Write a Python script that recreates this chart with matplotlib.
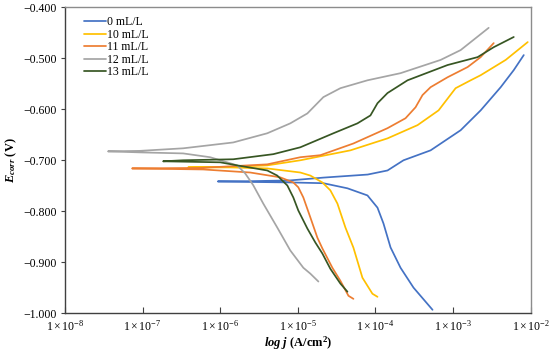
import numpy as np
import matplotlib
matplotlib.use("Agg")
import matplotlib.pyplot as plt
from matplotlib.ticker import FuncFormatter, FixedLocator, NullLocator

plt.rcParams['font.family'] = ['Liberation Serif', 'DejaVu Serif']
plt.rcParams['mathtext.fontset'] = 'custom'
plt.rcParams['mathtext.rm'] = 'Liberation Serif'
plt.rcParams['mathtext.it'] = 'Liberation Serif:italic'
plt.rcParams['mathtext.bf'] = 'Liberation Serif:bold'
plt.rcParams['mathtext.bfit'] = 'Liberation Serif:italic:bold'

# ---- data: log10 of current density (A/cm2) and potential (V) ----
labels = ["0 mL/L", "10 mL/L", "11 mL/L", "12 mL/L", "13 mL/L"]
colors = ["#4472C4", "#FFC000", "#ED7D31", "#A5A5A5", "#375623"]

logj_0 = [-3.265, -3.510, -3.677, -3.806, -3.897, -3.974, -4.103, -4.361, -4.671, -5.097, -5.613, -6.03,
          -5.61, -5.10, -4.67, -4.10, -3.845, -3.639, -3.290, -2.903, -2.645, -2.387, -2.219, -2.090]
E_0 = [-0.9935, -0.950, -0.911, -0.871, -0.824, -0.793, -0.769, -0.755, -0.745, -0.7435, -0.7425, -0.7415,
       -0.741, -0.7395, -0.734, -0.728, -0.720, -0.700, -0.6805, -0.641, -0.602, -0.5565, -0.523, -0.4935]

logj_10 = [-3.974, -4.039, -4.168, -4.284, -4.387, -4.490, -4.581, -4.684, -4.839, -4.968, -5.394, -5.871, -6.413,
           -5.871, -5.394, -4.968, -4.323, -3.845, -3.458, -3.187, -2.968, -2.774, -2.645, -2.323, -2.039]
E_10 = [-0.968, -0.962, -0.9305, -0.8715, -0.832, -0.785, -0.759, -0.7435, -0.730, -0.724, -0.716, -0.714, -0.714,
        -0.713, -0.710, -0.700, -0.6805, -0.657, -0.631, -0.602, -0.5585, -0.543, -0.533, -0.503, -0.468]

logj_11 = [-4.284, -4.348, -4.452, -4.555, -4.684, -4.748, -4.839, -4.929, -4.994, -5.058, -5.226, -5.613, -6.219, -7.135,
           -6.258, -5.394, -4.968, -4.710, -4.284, -3.845, -3.613, -3.484, -3.394, -3.290, -3.071, -2.813, -2.645, -2.477]
E_11 = [-0.972, -0.966, -0.9365, -0.911, -0.873, -0.852, -0.812, -0.773, -0.753, -0.7435, -0.7335, -0.724, -0.718, -0.716,
        -0.715, -0.708, -0.694, -0.690, -0.667, -0.637, -0.6175, -0.596, -0.572, -0.5565, -0.537, -0.517, -0.4975, -0.470]

logj_12 = [-4.735, -4.839, -4.929, -5.097, -5.265, -5.445, -5.574, -5.677, -5.781, -5.910, -6.129, -6.477, -7.032, -7.445,
           -7.032, -6.477, -5.832, -5.394, -5.097, -4.877, -4.774, -4.671, -4.452, -4.103, -3.677, -3.161, -2.903, -2.542]
E_12 = [-0.938, -0.9225, -0.911, -0.877, -0.832, -0.785, -0.749, -0.726, -0.710, -0.704, -0.694, -0.6865, -0.6845, -0.6825,
        -0.6815, -0.6765, -0.665, -0.647, -0.6275, -0.608, -0.592, -0.576, -0.5585, -0.543, -0.529, -0.503, -0.4837, -0.440]

logj_13 = [-4.361, -4.452, -4.581, -4.684, -4.774, -4.877, -4.994, -5.058, -5.135, -5.265, -5.394, -5.781, -6.0, -6.735,
           -6.477, -5.832, -5.316, -4.968, -4.542, -4.232, -4.065, -3.974, -3.845, -3.587, -3.071, -2.684, -2.477, -2.219]
E_13 = [-0.958, -0.942, -0.913, -0.883, -0.8615, -0.834, -0.7985, -0.773, -0.7495, -0.730, -0.720, -0.710, -0.704, -0.702,
        -0.700, -0.698, -0.688, -0.6745, -0.647, -0.6275, -0.612, -0.588, -0.568, -0.543, -0.513, -0.4975, -0.478, -0.458]

series_logj = [logj_0, logj_10, logj_11, logj_12, logj_13]
series_E = [E_0, E_10, E_11, E_12, E_13]

x_tick_exps = [-8, -7, -6, -5, -4, -3, -2]
y_ticks = [-1.0, -0.9, -0.8, -0.7, -0.6, -0.5, -0.4]

fig = plt.figure(figsize=(5.5, 3.55), dpi=100)
ax = fig.add_axes([0.118, 0.118, 0.847, 0.861])

for lj, e, lab, c in zip(series_logj, series_E, labels, colors):
    ax.plot(10.0 ** np.array(lj), e, color=c, lw=1.25, label=lab,
            solid_joinstyle='round', solid_capstyle='round')

ax.set_xscale('log')
ax.set_xlim(1e-8, 1e-2)
ax.set_ylim(-1.0, -0.4)
ax.xaxis.set_major_locator(FixedLocator([10.0 ** k for k in x_tick_exps]))
ax.xaxis.set_minor_locator(NullLocator())
ax.xaxis.set_major_formatter(FuncFormatter(
    lambda v, p: r'$\mathregular{1\times10^{%d}}$' % int(round(np.log10(v)))))
ax.yaxis.set_major_locator(FixedLocator(y_ticks))
ax.yaxis.set_major_formatter(FuncFormatter(lambda v, p: f"{v:.3f}".replace('-', '\u2212')))

ax.tick_params(axis='x', direction='in', length=4, width=0.8, colors='#404040', labelcolor='black',
               labelsize=8.5, pad=4)
ax.tick_params(axis='y', direction='out', length=3, width=0.8, colors='#404040', labelcolor='black',
               labelsize=8.5, pad=3)

for s in ['left', 'bottom']:
    ax.spines[s].set_color('#404040')
    ax.spines[s].set_linewidth(1.0)
for s in ['top', 'right']:
    ax.spines[s].set_color('#8c8c8c')
    ax.spines[s].set_linewidth(1.0)

ax.set_xlabel(r'$\mathbfit{log\ j}\ \mathbf{(A/cm}^{\mathbf{2}}\mathbf{)}$', fontsize=9, labelpad=1)
ax.set_ylabel(r'$\mathbfit{E}_{\mathbfit{corr}}\ \mathbf{(V)}$', fontsize=9, labelpad=3)

leg = ax.legend(loc='upper left', bbox_to_anchor=(0.025, 0.995), frameon=False, fontsize=8.5,
                handlelength=1.9, handletextpad=0.1, labelspacing=0.05, borderaxespad=0.2)

fig.savefig('out.png', dpi=100)
